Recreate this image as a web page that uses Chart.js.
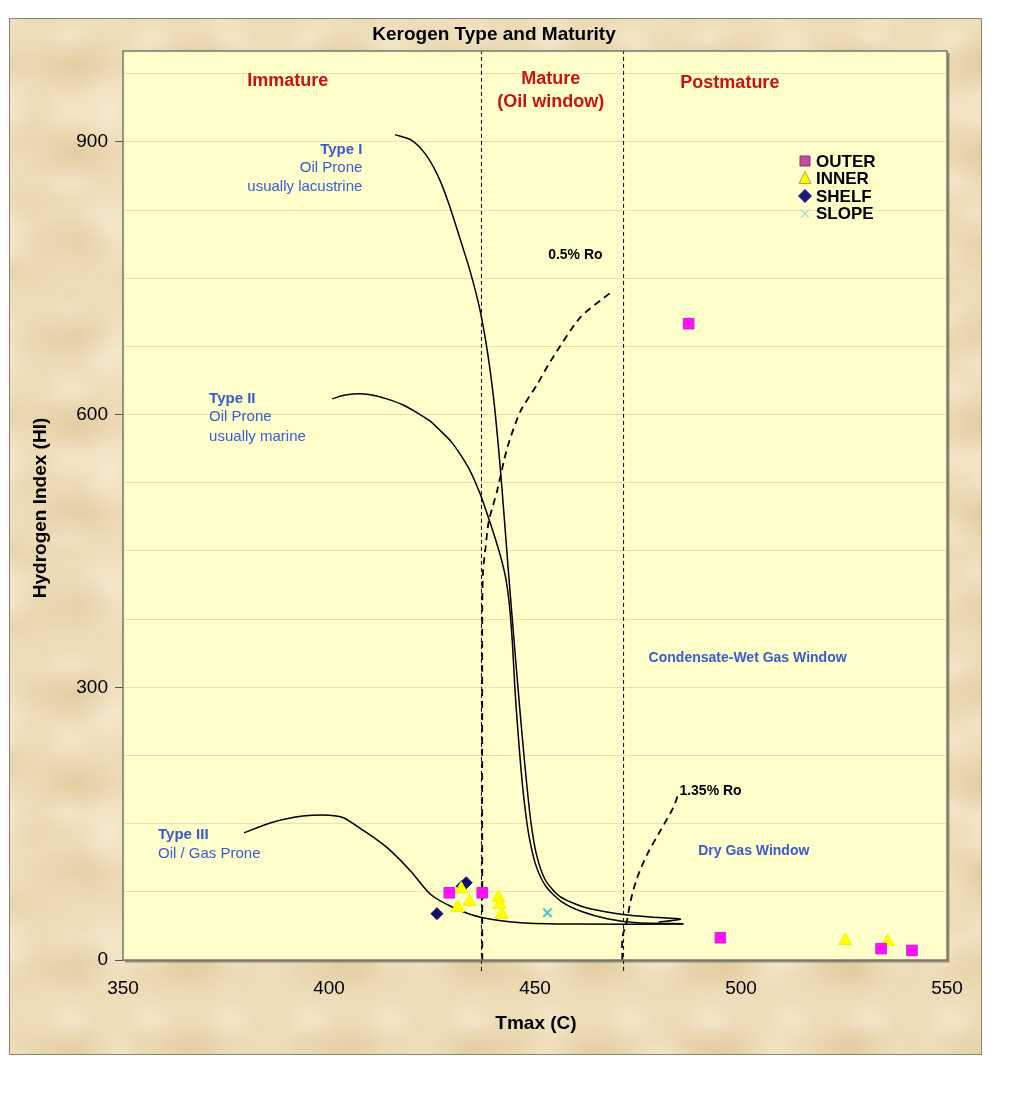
<!DOCTYPE html>
<html>
<head>
<meta charset="utf-8">
<title>Kerogen Type and Maturity</title>
<script src="https://cdn.jsdelivr.net/npm/chart.js@4.4.1/dist/chart.umd.min.js"></script>
<style>
    html, body { margin: 0; padding: 0; background: #fff; }
    #frame {
        position: absolute; left: 9px; top: 18px; width: 973px; height: 1037px;
        box-sizing: border-box; border: 1px solid #8a8470;
        background-color: #eddcb8;
        background-image:
            radial-gradient(ellipse 50px 30px at 50% 50%, rgba(214,186,135,0.45), rgba(214,186,135,0) 100%),
            radial-gradient(ellipse 35px 45px at 50% 50%, rgba(249,240,218,0.65), rgba(249,240,218,0) 100%),
            radial-gradient(ellipse 60px 22px at 50% 50%, rgba(222,198,150,0.35), rgba(222,198,150,0) 100%),
            radial-gradient(ellipse 28px 24px at 50% 50%, rgba(246,236,210,0.6), rgba(246,236,210,0) 100%);
        background-size: 130px 90px, 110px 120px, 170px 70px, 80px 70px;
        background-position: 0 0, 45px 30px, 80px 10px, 20px 55px;
    }
    canvas { position: absolute; left: 0; top: 0; }
</style>
</head>
<body>
<div id="frame"><canvas id="kerogenChart" width="973" height="1037"></canvas></div>
<script>
const FONT = "'Liberation Sans', Arial, sans-serif";

// curves: [Tmax, HI]
const typeI = [[416, 908], [420, 902], [423.5, 886], [426.5, 862], [429, 833], [431.7, 795],
    [434.3, 757], [436.6, 716], [438.5, 668], [440.1, 612], [441.5, 545], [442.6, 483],
    [443.5, 430], [444.4, 380], [445.3, 330], [446.2, 282], [447.1, 236], [448, 193],
    [449, 152], [450.3, 117], [452.5, 88], [456, 70], [462, 58], [470, 51], [478, 47.3],
    [485.3, 45], [480, 41.5]];
const typeII = [[400.8, 617.5], [404, 621.5], [407.7, 623], [411, 621], [414.2, 617], [418, 610.5],
    [421.4, 602], [424.5, 593], [427.1, 582], [429.7, 570], [431.9, 556], [433.8, 542],
    [435.4, 527], [437, 509], [438.6, 488], [440.2, 466], [441.7, 443], [442.9, 420],
    [443.8, 390], [444.5, 350], [445.1, 300], [445.8, 255], [446.6, 210], [447.5, 170],
    [448.6, 135], [450.3, 103], [452.8, 80], [456.5, 64], [461.5, 53], [467.5, 45.5],
    [474.8, 41], [486, 40]];
const typeIII = [[379.4, 140], [385.9, 151], [391.5, 157], [396, 159.3], [400, 159.3],
    [403.5, 156.5], [408.5, 142], [412, 131], [415, 120], [419.8, 98], [424.7, 72],
    [430.3, 57.5], [436.8, 47], [446.5, 41], [460, 39.5], [486, 39.5]];
const ro05 = [[437.2, 0], [437.2, 390], [437.4, 428], [438, 454], [438.8, 483], [440.8, 516],
    [443.3, 564], [446.5, 604], [450.5, 633], [453.8, 659], [461, 707], [468.3, 734]];
const ro135 = [[471.2, 0], [471.2, 24.5], [472.3, 43], [473.2, 65], [474.8, 90.5], [477.2, 116],
    [480.4, 142], [483.5, 167], [484.6, 180]];
const boundaries = [437, 471.5];

// samples
const outer = [[429.2, 74], [437.2, 74], [487.3, 700], [495, 24.5], [534, 12.5], [541.5, 10.5]];
const inner = [[432.1, 78], [431.2, 57.5], [434.1, 64], [441.1, 68.5], [441.4, 61], [441.9, 50],
    [525.3, 21], [535.6, 20]];
const shelf = [[426.2, 51], [432.3, 81], [433.3, 85]];
const slope = [[453, 52]];

const xTicks = [350, 400, 450, 500, 550];
const yLabelled = [0, 300, 600, 900];

// text placed in data coordinates
const notes = [
    { t: 'Immature', x: 390, y: 967, c: '#cc1111', s: 18, b: true, a: 'center' },
    { t: 'Mature', x: 453.8, y: 969, c: '#cc1111', s: 18, b: true, a: 'center' },
    { t: '(Oil window)', x: 453.8, y: 944, c: '#cc1111', s: 18, b: true, a: 'center' },
    { t: 'Postmature', x: 497.3, y: 965, c: '#cc1111', s: 18, b: true, a: 'center' },
    { t: 'Type I', x: 408.1, y: 891, c: '#3a5bd0', s: 15, b: true, a: 'right' },
    { t: 'Oil Prone', x: 408.1, y: 871, c: '#3a5bd0', s: 15, b: false, a: 'right' },
    { t: 'usually lacustrine', x: 408.1, y: 850, c: '#3a5bd0', s: 15, b: false, a: 'right' },
    { t: 'Type II', x: 370.9, y: 617, c: '#3a5bd0', s: 15, b: true, a: 'left' },
    { t: 'Oil Prone', x: 370.9, y: 597, c: '#3a5bd0', s: 15, b: false, a: 'left' },
    { t: 'usually marine', x: 370.9, y: 576, c: '#3a5bd0', s: 15, b: false, a: 'left' },
    { t: 'Type III', x: 358.5, y: 137.5, c: '#3a5bd0', s: 15, b: true, a: 'left' },
    { t: 'Oil / Gas Prone', x: 358.5, y: 116.6, c: '#3a5bd0', s: 15, b: false, a: 'left' },
    { t: '0.5% Ro', x: 459.8, y: 775.6, c: '#000', s: 14, b: true, a: 'center' },
    { t: '1.35% Ro', x: 492.6, y: 186, c: '#000', s: 14, b: true, a: 'center' },
    { t: 'Condensate-Wet Gas Window', x: 501.6, y: 332, c: '#3a5bd0', s: 14, b: true, a: 'center' },
    { t: 'Dry Gas Window', x: 503.1, y: 120, c: '#3a5bd0', s: 14, b: true, a: 'center' }
];

const legendItems = [
    { label: 'OUTER', shape: 'square', fill: '#c0509e', stroke: '#8e3070' },
    { label: 'INNER', shape: 'triangle', fill: '#ffff00', stroke: '#b0a830' },
    { label: 'SHELF', shape: 'diamond', fill: '#1c1c78', stroke: '#1c1c78' },
    { label: 'SLOPE', shape: 'cross', fill: '#66cccc', stroke: '#66cccc' }
];

function pts(arr) {
    return arr.map(p => ({ x: p[0], y: p[1] }));
}

function curve(arr, dash, width) {
    return {
        data: pts(arr), showLine: true, pointRadius: 0, borderColor: '#000',
        borderWidth: width, borderDash: dash, tension: 0.25, order: 2
    };
}

function marker(ctx, shape, x, y, fill, stroke) {
    ctx.save();
    ctx.fillStyle = fill;
    ctx.strokeStyle = stroke;
    ctx.lineWidth = 1;
    ctx.beginPath();
    if (shape === 'square') {
        ctx.rect(x - 5, y - 5, 10, 10);
    } else if (shape === 'triangle') {
        ctx.moveTo(x, y - 7); ctx.lineTo(x + 6, y + 5); ctx.lineTo(x - 6, y + 5); ctx.closePath();
    } else if (shape === 'diamond') {
        ctx.moveTo(x, y - 6.5); ctx.lineTo(x + 6.5, y); ctx.lineTo(x, y + 6.5); ctx.lineTo(x - 6.5, y); ctx.closePath();
    } else {
        ctx.moveTo(x - 4, y - 4); ctx.lineTo(x + 4, y + 4); ctx.moveTo(x + 4, y - 4); ctx.lineTo(x - 4, y + 4);
        ctx.stroke();
        ctx.restore();
        return;
    }
    ctx.fill();
    ctx.stroke();
    ctx.restore();
}

const plotBackground = {
    id: 'plotBackground',
    beforeDraw(chart) {
        const { ctx, chartArea: a } = chart;
        ctx.save();
        ctx.fillStyle = '#ffffcc';
        ctx.fillRect(a.left, a.top, a.right - a.left, a.bottom - a.top);
        ctx.restore();
    }
};

const decorations = {
    id: 'decorations',
    afterDraw(chart) {
        const { ctx, chartArea: a, scales } = chart;
        ctx.save();
        // plot border with a slight shadow
        ctx.strokeStyle = '#77776a';
        ctx.lineWidth = 1.5;
        ctx.strokeRect(a.left, a.top, a.right - a.left, a.bottom - a.top);
        ctx.strokeStyle = 'rgba(90,85,70,0.6)';
        ctx.lineWidth = 2;
        ctx.beginPath();
        ctx.moveTo(a.left + 2, a.bottom + 1.5);
        ctx.lineTo(a.right + 1.5, a.bottom + 1.5);
        ctx.lineTo(a.right + 1.5, a.top + 2);
        ctx.stroke();

        notes.forEach(n => {
            ctx.font = (n.b ? 'bold ' : '') + n.s + 'px ' + FONT;
            ctx.fillStyle = n.c;
            ctx.textAlign = n.a;
            ctx.textBaseline = 'middle';
            ctx.fillText(n.t, scales.x.getPixelForValue(n.x), scales.y.getPixelForValue(n.y));
        });

        // legend
        const lx = a.left + 682, ly = a.top + 110;
        legendItems.forEach((it, i) => {
            const y = ly + i * 17.5;
            marker(ctx, it.shape, lx, y, it.fill, it.stroke);
            ctx.font = 'bold 17px ' + FONT;
            ctx.fillStyle = '#000';
            ctx.textAlign = 'left';
            ctx.textBaseline = 'middle';
            ctx.fillText(it.label, lx + 11, y + 1);
        });

        // titles
        ctx.fillStyle = '#000';
        ctx.textAlign = 'center';
        ctx.textBaseline = 'middle';
        ctx.font = 'bold 19px ' + FONT;
        ctx.fillText('Kerogen Type and Maturity', 484, 16);
        ctx.fillText('Tmax (C)', 526, 1005);
        ctx.translate(31, 489);
        ctx.rotate(-Math.PI / 2);
        ctx.fillText('Hydrogen Index (HI)', 0, 0);
        ctx.restore();
    }
};

const datasets = [
    { label: 'OUTER', data: pts(outer), pointStyle: 'rect', pointRadius: 7.5, backgroundColor: '#ff11ff', borderColor: '#d020d0', borderWidth: 1, order: 0 },
    { label: 'INNER', data: pts(inner), pointStyle: 'triangle', pointRadius: 7.5, backgroundColor: '#ffff00', borderColor: '#f2f200', borderWidth: 1, order: 0 },
    { label: 'SHELF', data: pts(shelf), pointStyle: 'rectRot', pointRadius: 6, backgroundColor: '#10106b', borderColor: '#10106b', borderWidth: 1, order: 0 },
    { label: 'SLOPE', data: pts(slope), pointStyle: 'crossRot', pointRadius: 6, backgroundColor: '#44cccc', borderColor: '#44cccc', borderWidth: 2, order: 0 },
    curve(typeI, [], 1.5),
    curve(typeII, [], 1.5),
    curve(typeIII, [], 1.5),
    curve(ro05, [7, 5], 1.8),
    curve(ro135, [7, 5], 1.8)
];

boundaries.forEach(b => {
    datasets.push({
        data: [{ x: b, y: -12 }, { x: b, y: 1000 }], showLine: true, pointRadius: 0,
        borderColor: '#000', borderWidth: 1, borderDash: [4, 3], clip: false, order: 3
    });
});

const ctx = document.getElementById('kerogenChart').getContext('2d');
const kerogenChart = new Chart(ctx, {
    type: 'scatter',
    data: { datasets: datasets },
    options: {
        responsive: false,
        animation: false,
        events: [],
        layout: { padding: { left: 43, top: 32, right: 36, bottom: 36 } },
        plugins: {
            legend: { display: false },
            tooltip: { enabled: false },
            title: { display: false }
        },
        scales: {
            x: {
                type: 'linear', min: 350, max: 550,
                afterBuildTicks: s => { s.ticks = xTicks.map(v => ({ value: v })); },
                afterFit: s => { s.height = 60; },
                ticks: { color: '#000', font: { family: FONT, size: 19 }, padding: 17 },
                grid: { drawOnChartArea: false, drawTicks: false },
                border: { display: false }
            },
            y: {
                type: 'linear', min: 0, max: 1000,
                afterBuildTicks: s => { s.ticks = s.ticks.filter(t => t.value < 1000); },
                afterFit: s => { s.width = 70; },
                ticks: {
                    stepSize: 75, autoSkip: false, color: '#000', padding: 7,
                    font: { family: FONT, size: 19 },
                    callback: v => yLabelled.includes(v) ? String(v) : ''
                },
                grid: {
                    color: 'rgba(185,175,115,0.35)',
                    tickColor: c => (c.tick && yLabelled.includes(c.tick.value)) ? '#555' : 'rgba(0,0,0,0)',
                    tickLength: 8
                },
                border: { display: false }
            }
        }
    },
    plugins: [plotBackground, decorations]
});
</script>
</body>
</html>
